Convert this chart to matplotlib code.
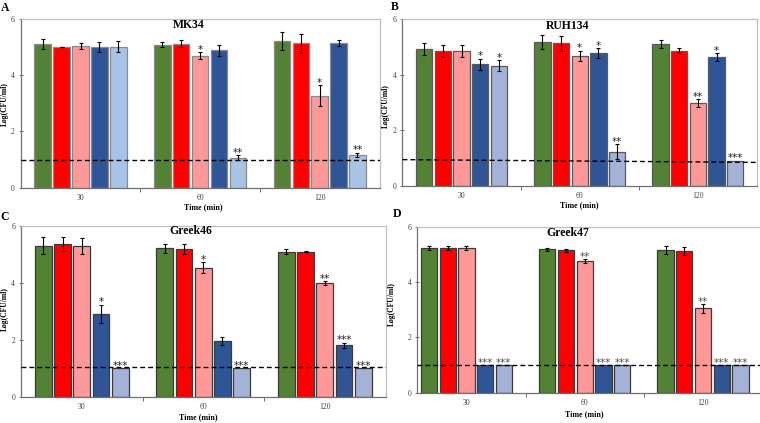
import matplotlib
matplotlib.use("Agg")
import matplotlib.pyplot as plt
import numpy as np

plt.rcParams['font.family'] = ['Liberation Serif', 'DejaVu Serif']

time_labels = ['30', '60', '120']
series_names = ['s1', 's2', 's3', 's4', 's5']

# Panel A - MK34 (rows: series, cols: time)
mk34_vals = [[5.11, 5.09, 5.21],
             [5.00, 5.12, 5.13],
             [5.05, 4.70, 3.27],
             [4.99, 4.88, 5.15],
             [5.02, 1.07, 1.17]]
mk34_err = [[0.17, 0.10, 0.33],
            [0.01, 0.12, 0.35],
            [0.10, 0.12, 0.38],
            [0.18, 0.18, 0.12],
            [0.19, 0.09, 0.08]]
mk34_sig = [['', '', ''], ['', '', ''], ['', '*', '*'], ['', '', ''], ['', '**', '**']]
mk34_limit = [0.975, 0.975]

# Panel B - RUH134
ruh134_vals = [[4.93, 5.19, 5.10],
               [4.86, 5.13, 4.87],
               [4.86, 4.68, 2.99],
               [4.38, 4.77, 4.63],
               [4.33, 1.23, 0.90]]
ruh134_err = [[0.20, 0.26, 0.14],
              [0.21, 0.27, 0.08],
              [0.21, 0.19, 0.14],
              [0.20, 0.18, 0.15],
              [0.20, 0.26, 0.0]]
ruh134_sig = [['', '', ''], ['', '', ''], ['', '*', '**'], ['*', '*', '*'], ['*', '**', '***']]
ruh134_limit = [0.94, 0.84]

# Panel C - Greek46
greek46_vals = [[5.30, 5.20, 5.09],
                [5.35, 5.19, 5.09],
                [5.29, 4.53, 3.99],
                [2.91, 1.95, 1.80],
                [1.00, 1.00, 1.00]]
greek46_err = [[0.30, 0.17, 0.08],
               [0.25, 0.17, 0.02],
               [0.29, 0.19, 0.06],
               [0.32, 0.13, 0.10],
               [0.0, 0.0, 0.0]]
greek46_sig = [['', '', ''], ['', '', ''], ['', '*', '**'], ['*', '', '***'], ['***', '***', '***']]
greek46_limit = [1.03, 1.03]

# Panel D - Greek47
greek47_vals = [[5.22, 5.18, 5.16],
                [5.22, 5.14, 5.12],
                [5.22, 4.75, 3.05],
                [1.00, 1.00, 1.00],
                [1.00, 1.00, 1.00]]
greek47_err = [[0.07, 0.06, 0.14],
               [0.07, 0.06, 0.14],
               [0.07, 0.07, 0.16],
               [0.0, 0.0, 0.0],
               [0.0, 0.0, 0.0]]
greek47_sig = [['', '', ''], ['', '', ''], ['', '**', '**'], ['***', '***', '***'], ['***', '***', '***']]
greek47_limit = [1.0, 1.0]

W, H = 760, 423
fig = plt.figure(figsize=(W / 100, H / 100), dpi=100)


def axes_px(l, r, t, b):
    return fig.add_axes([l / W, 1 - b / H, (r - l) / W, (b - t) / H])


panels = [
    dict(box=(20.7, 379.5, 19.0, 187.7), xlim=(-0.5, 2.5), vals=mk34_vals, err=mk34_err, sig=mk34_sig,
         lim=mk34_limit, title='MK34', tx=0.468, ty=0.945, letter='A', lpos=(1, 11),
         ylab=(5, 104), xlab=(203, 207), lb='#a7c4e6', edge='#8a8a8a', starc='#222222'),
    dict(box=(402.5, 757.0, 19.3, 185.7), xlim=(-0.5, 2.5), vals=ruh134_vals, err=ruh134_err, sig=ruh134_sig,
         lim=ruh134_limit, title='RUH134', tx=0.466, ty=0.94, letter='B', lpos=(390.5, 9.5),
         ylab=(386, 106), xlab=(579, 205.5), lb='#a3b2d6', edge='#5a5a5a', starc='#222222'),
    dict(box=(21.0, 385.5, 225.7, 396.7), xlim=(-0.5, 2.5), vals=greek46_vals, err=greek46_err, sig=greek46_sig,
         lim=greek46_limit, title='Greek46', tx=0.467, ty=0.95, letter='C', lpos=(0, 220),
         ylab=(5, 309), xlab=(198, 417), lb='#a3b2d6', edge='#3a3a3a', starc='#222222'),
    dict(box=(417.3, 762.0, 226.7, 392.7), xlim=(-0.415, 2.499), vals=greek47_vals, err=greek47_err, sig=greek47_sig,
         lim=greek47_limit, title='Greek47', tx=0.436, ty=0.944, letter='D', lpos=(393, 217),
         ylab=(391.7, 304), xlab=(584, 414), lb='#a3b2d6', edge='#3a3a3a', starc='#505050'),
]

base_colors = ['#548235', '#ff0000', '#ff9999', '#2f5597']
pitch = 0.158
bw = 0.138
x = np.arange(len(time_labels))

for p in panels:
    ax = axes_px(*p['box'])
    colors = base_colors + [p['lb']]
    for i in range(len(series_names)):
        xi = x + (i - 2) * pitch
        v = np.array(p['vals'][i])
        e = np.array(p['err'][i])
        ax.bar(xi, v, width=bw, color=colors[i], edgecolor=p['edge'], linewidth=0.9, zorder=2)
        m = e > 0
        if m.any():
            ax.errorbar(xi[m], v[m], yerr=e[m], fmt='none', ecolor='black', elinewidth=0.8,
                        capsize=1.6, capthick=0.8, zorder=3)
        for j in range(len(time_labels)):
            s = p['sig'][i][j]
            if s:
                ax.annotate(s, (xi[j], v[j] + e[j]), xytext=(0, -0.5), textcoords='offset points',
                            ha='center', va='baseline', fontsize=7.5, family='DejaVu Sans',
                            color=p['starc'], zorder=4)
    ax.plot([0, 1], p['lim'], transform=ax.get_yaxis_transform(), color='black',
            linestyle=(0, (3.5, 2.2)), linewidth=1.0, zorder=5)
    ax.set_xlim(*p['xlim'])
    ax.set_ylim(0, 6)
    ax.set_yticks([0, 2, 4, 6])
    ax.set_xticks(x)
    ax.set_xticklabels(time_labels)
    ax.set_xticks([0.5, 1.5], minor=True)
    ax.tick_params(axis='x', which='major', length=0, pad=4.5, labelsize=5.5, labelcolor='#404040')
    ax.tick_params(axis='x', which='minor', length=3, width=0.7, direction='out', color='#707070')
    ax.tick_params(axis='y', length=3.5, width=0.7, direction='inout', pad=2.5, labelsize=5.5,
                   labelcolor='#404040', color='#707070')
    for sp in ['left', 'bottom']:
        ax.spines[sp].set_color('#707070')
        ax.spines[sp].set_linewidth(0.9)
    for sp in ['top', 'right']:
        ax.spines[sp].set_color('#c0c0c0')
        ax.spines[sp].set_linewidth(0.9)
    ax.text(p['tx'], p['ty'], p['title'], transform=ax.transAxes, ha='center', va='baseline',
            fontsize=8.5, fontweight='bold', color='black', zorder=6)
    fig.text(p['lpos'][0] / W, 1 - p['lpos'][1] / H, p['letter'], ha='left', va='baseline',
             fontsize=8.5, fontweight='bold')
    fig.text(p['ylab'][0] / W, 1 - p['ylab'][1] / H, 'Log(CFU/ml)', rotation=90, ha='center',
             va='center', fontsize=5.5, fontweight='bold')
    fig.text(p['xlab'][0] / W, 1 - p['xlab'][1] / H, 'Time (min)', ha='center', va='center',
             fontsize=5.7, fontweight='bold')

fig.savefig('out.png', dpi=100)
